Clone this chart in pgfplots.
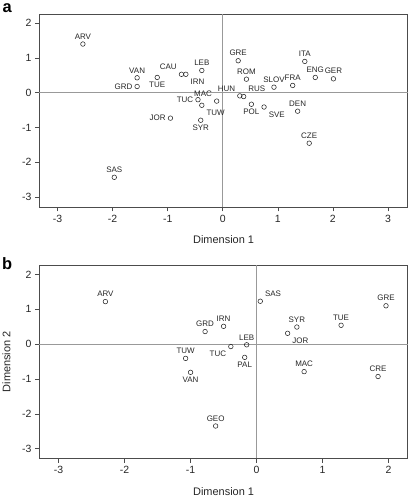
\documentclass[border=0pt]{standalone}
\usepackage{fontspec}
\setmainfont{Liberation Sans}
\usepackage{pgfplots}
\pgfplotsset{compat=1.18}
\usetikzlibrary{calc}
\definecolor{frame}{gray}{0.3}
\definecolor{zeroline}{gray}{0.6}
\definecolor{pt}{gray}{0.15}
\pgfplotsset{
  mca/.style={
    scale only axis, width=369.5pt,
    axis line style={frame, line width=0.7pt},
    tick align=outside, tick pos=left,
    major tick length=4.5pt,
    every tick/.style={frame, line width=0.6pt},
    xtick={-3,-2,-1,0,1,2,3}, ytick={-3,-2,-1,0,1,2},
    /pgf/number format/assume math mode=true,
    tick label style={font=\fontsize{10.5}{12}\selectfont, text=black!85},
    label style={font=\fontsize{11}{13}\selectfont, text=black!85},
    x label style={at={(axis description cs:0.5,0)}, anchor=center, yshift=-33pt},
    clip=false,
  },
  pts/.style={only marks, mark=o, mark size=2.3pt, pt, line width=0.55pt,
    nodes near coords, point meta=explicit symbolic,
    visualization depends on={value \thisrow{anc} \as \anc},
    nodes near coords style={anchor=\anc, font=\fontsize{8}{9}\selectfont, text=black!85, inner sep=4.5pt}},
}
\begin{document}
\begin{tikzpicture}
\begin{axis}[mca, name=a, height=193pt,
  xmin=-3.33, xmax=3.36, ymin=-3.28, ymax=2.25,
  xlabel={Dimension 1}]
\draw[zeroline, line width=0.6pt] ({axis cs:0,0}|-{rel axis cs:0,0}) -- ({axis cs:0,0}|-{rel axis cs:0,1});
\draw[zeroline, line width=0.6pt] ({axis cs:0,0}-|{rel axis cs:0,0}) -- ({axis cs:0,0}-|{rel axis cs:1,0});
\addplot[pts] table[meta=lab] {
x y lab anc
-2.54 1.40 ARV south
-1.555 0.43 VAN south
-1.555 0.18 GRD east
-1.19 0.44 TUE north
-0.75 0.53 CAU {south east}
-0.67 0.53 IRN {north west}
-0.38 0.64 LEB south
-0.45 -0.20 TUC east
-0.11 -0.24 MAC {south east}
-0.38 -0.36 TUW {north west}
-0.40 -0.79 SYR north
-0.95 -0.73 JOR east
-1.97 -2.43 SAS south
0.28 0.92 GRE south
0.43 0.39 ROM south
0.93 0.16 SLOV south
1.27 0.21 FRA south
1.49 0.90 ITA south
1.68 0.44 ENG south
2.01 0.40 GER south
0.31 -0.09 HUN {south east}
0.38 -0.11 RUS {south west}
0.52 -0.33 POL north
0.75 -0.41 SVE {north west}
1.36 -0.53 DEN south
1.57 -1.45 CZE south
};
\end{axis}
\begin{axis}[mca, name=b, height=194pt,
  at={($(a.north west)+(0,-251.3pt)$)}, anchor=north west,
  xmin=-3.29, xmax=2.29, ymin=-3.28, ymax=2.27,
  xlabel={Dimension 1}]
\draw[zeroline, line width=0.6pt] ({axis cs:0,0}|-{rel axis cs:0,0}) -- ({axis cs:0,0}|-{rel axis cs:0,1});
\draw[zeroline, line width=0.6pt] ({axis cs:0,0}-|{rel axis cs:0,0}) -- ({axis cs:0,0}-|{rel axis cs:1,0});
\addplot[pts] table[meta=lab] {
x y lab anc
-2.29 1.22 ARV south
-0.78 0.36 GRD south
-1.075 -0.41 TUW south
-1.00 -0.81 VAN north
-0.50 0.51 IRN south
-0.15 -0.02 LEB south
-0.39 -0.07 TUC {north east}
-0.18 -0.38 PAL north
-0.62 -2.35 GEO south
0.056 1.23 SAS {south west}
0.61 0.49 SYR south
0.47 0.31 JOR {north west}
1.28 0.54 TUE south
1.96 1.10 GRE south
0.72 -0.79 MAC south
1.84 -0.93 CRE south
};
\end{axis}
\node[rotate=90, anchor=center, font=\fontsize{11}{13}\selectfont, text=black!85] at ($(b.west)+(-33pt,0)$) {Dimension 2};
\node[anchor=base, inner sep=0pt, font=\fontsize{16.5}{18}\selectfont\bfseries] at ($(a.north west)+(-32.3pt,1.5pt)$) {a};
\node[anchor=base, inner sep=0pt, font=\fontsize{16.5}{18}\selectfont\bfseries] at ($(b.north west)+(-32.3pt,-5pt)$) {b};
\pgfresetboundingbox
\path[use as bounding box] ($(a.north west)+(-39.5pt,14.5pt)$) rectangle ($(a.north east)+(0.4pt,-484pt)$);
\end{tikzpicture}
\end{document}
